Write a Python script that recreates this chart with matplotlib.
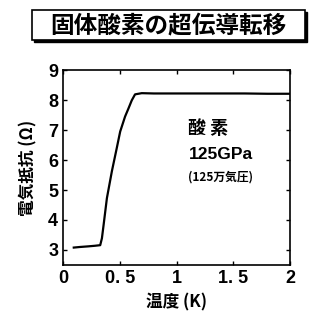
import matplotlib
matplotlib.use("Agg")
import matplotlib.pyplot as plt
from matplotlib.patches import Rectangle

plt.rcParams['font.family'] = ['Noto Sans CJK JP', 'DejaVu Sans']

temperature = [0.094, 0.15, 0.22, 0.28, 0.327, 0.342, 0.357, 0.386, 0.43, 0.474, 0.503, 0.546, 0.576, 0.605, 0.634, 0.693, 0.8, 1.0, 1.2, 1.4, 1.6, 1.8, 2.0]
resistance = [3.08, 3.10, 3.12, 3.14, 3.16, 3.39, 3.84, 4.73, 5.63, 6.42, 6.95, 7.45, 7.72, 7.99, 8.19, 8.23, 8.22, 8.22, 8.22, 8.22, 8.22, 8.21, 8.21]

x_ticks = [0, 0.5, 1, 1.5, 2]
x_tick_labels = ['0', '0. 5', '1', '1. 5', '2']
y_ticks = [3, 4, 5, 6, 7, 8, 9]

title = '固体酸素の超伝導転移'
x_label = '温度 (K)'
y_label = '電気抵抗 (Ω)'

fig = plt.figure(figsize=(3.27, 3.2), dpi=100)
ax = fig.add_axes([0.193, 0.172, 0.694, 0.609])

ax.plot(temperature, resistance, color='black', lw=1.6)
ax.set_xlim(0, 2)
ax.set_ylim(2.5, 9)
ax.set_xticks(x_ticks)
ax.set_xticklabels(x_tick_labels)
ax.set_yticks(y_ticks)
ax.tick_params(direction='in', top=True, right=True, labelsize=13, length=3, width=1)
for lab in ax.get_xticklabels() + ax.get_yticklabels():
    lab.set_fontweight('bold')
    lab.set_family(['Liberation Sans', 'DejaVu Sans'])
for s in ax.spines.values():
    s.set_linewidth(1.2)

ax.set_xlabel(x_label, fontsize=12, fontweight='bold', labelpad=5)
ax.set_ylabel(y_label, fontsize=12, fontweight='bold', labelpad=8)

ax.text(0.55, 0.70, '酸 素', transform=ax.transAxes, fontsize=13, fontweight='bold', ha='left', va='center')
ax.text(0.555, 0.565, '125GPa', transform=ax.transAxes, fontsize=12.5, fontweight='bold',
        family=['Liberation Sans', 'DejaVu Sans'], ha='left', va='center')
ax.text(0.55, 0.45, '(125万気圧)', transform=ax.transAxes, fontsize=8.5, fontweight='bold', ha='left', va='center')

# Title box with shadow
W, H = 327, 320
sx, sy, sw, sh = 32, 10, 273, 30
fig.patches.append(Rectangle(((sx + 2) / W, 1 - (sy + sh + 2) / H), sw / W, sh / H,
                             transform=fig.transFigure, facecolor='black', edgecolor='black', zorder=1))
fig.patches.append(Rectangle((sx / W, 1 - (sy + sh) / H), sw / W, sh / H,
                             transform=fig.transFigure, facecolor='white', edgecolor='black', lw=1.2, zorder=2))
fig.text((sx + sw / 2) / W, 1 - (sy + sh / 2) / H, title, fontsize=17, fontweight='bold',
         ha='center', va='center', zorder=3)

fig.savefig('out.png', dpi=100)
